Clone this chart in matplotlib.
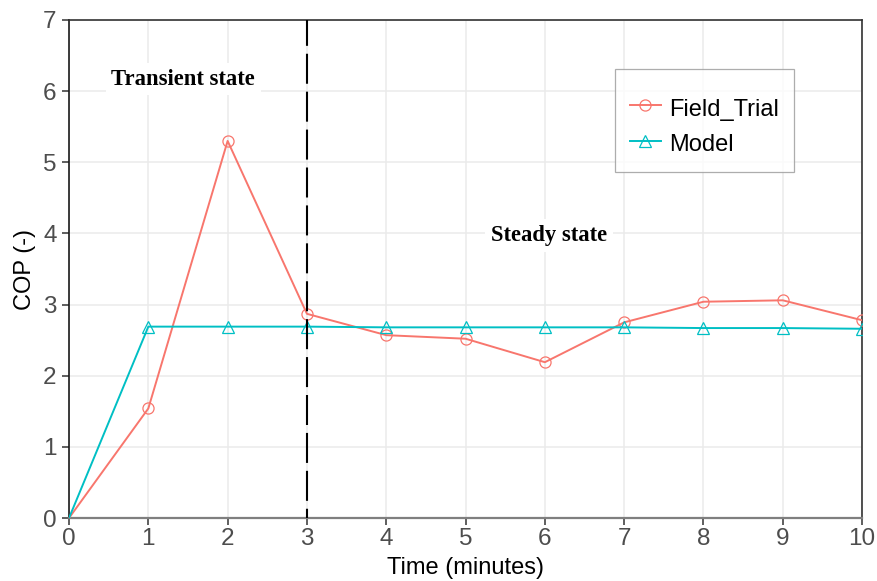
import matplotlib
matplotlib.use("Agg")
import matplotlib.pyplot as plt

# Time axis (minutes) and COP series
time_min = [0, 1, 2, 3, 4, 5, 6, 7, 8, 9, 10]
cop_field_trial = [0, 1.54, 5.30, 2.87, 2.57, 2.52, 2.19, 2.75, 3.04, 3.06, 2.78]
cop_model = [0, 2.69, 2.69, 2.69, 2.68, 2.68, 2.68, 2.68, 2.67, 2.67, 2.66]

series_names = ["Field_Trial", "Model"]
x_ticks = [0, 1, 2, 3, 4, 5, 6, 7, 8, 9, 10]
y_ticks = [0, 1, 2, 3, 4, 5, 6, 7]
transition_time = 3

annotations = [
    ("Transient state", 1.44, 6.17),
    ("Steady state", 6.05, 3.97),
]

RED = "#F8766D"
CYAN = "#00BFC4"

plt.rcParams["font.family"] = ["Liberation Sans", "DejaVu Sans"]

fig = plt.figure(figsize=(8.77, 5.81), dpi=100)
ax = fig.add_axes([0.0787, 0.1084, 0.9043, 0.8572])

ax.set_xlim(x_ticks[0], x_ticks[-1])
ax.set_ylim(y_ticks[0], y_ticks[-1])
ax.set_xticks(x_ticks)
ax.set_yticks(y_ticks)

ax.grid(True, color="#EBEBEB", linewidth=1.1, zorder=0)
ax.set_axisbelow(True)

marked = list(range(1, len(time_min)))
ax.plot(time_min, cop_field_trial, color=RED, linewidth=1.4, marker="o",
        markersize=8, markerfacecolor="none", markeredgecolor=RED,
        markeredgewidth=0.9, markevery=marked, label=series_names[0], zorder=3)
ax.plot(time_min, cop_model, color=CYAN, linewidth=1.4, marker="^",
        markersize=8, markerfacecolor="none", markeredgecolor=CYAN,
        markeredgewidth=0.9, markevery=marked, label=series_names[1], zorder=3)

# Boundary between transient and steady operation
ax.axvline(transition_time, ymin=1, ymax=0, color="black", linewidth=1.5,
           linestyle=(2, (14.4, 3.8)), zorder=4)

for label, tx, ty in annotations:
    ax.text(tx, ty, label, ha="center", va="center", fontsize=16.3,
            fontweight="bold", family=["Liberation Serif", "DejaVu Serif"],
            color="black", zorder=5,
            bbox=dict(facecolor="white", edgecolor="none", pad=4))

for side in ("top", "right"):
    ax.spines[side].set_color("#333333")
    ax.spines[side].set_linewidth(1.2)
ax.spines["left"].set_color("#1a1a1a")
ax.spines["left"].set_linewidth(1.2)
ax.spines["bottom"].set_color("#7f7f7f")
ax.spines["bottom"].set_linewidth(1.6)

ax.tick_params(axis="both", which="major", length=5, width=1.1,
               color="#333333", labelcolor="#4D4D4D", labelsize=17.5)
ax.tick_params(axis="x", pad=2)
ax.tick_params(axis="y", pad=4)

ax.set_xlabel("Time (minutes)", fontsize=17, color="black", labelpad=5)
ax.set_ylabel("COP (-)", fontsize=17, color="black", labelpad=5)

leg = ax.legend(loc="upper left", bbox_to_anchor=(0.689, 0.902), fontsize=17,
                title=" ", title_fontsize=3,
                frameon=True, fancybox=False, handlelength=1.3,
                handleheight=1.45, borderpad=0.62, labelspacing=0.3,
                handletextpad=0.35, borderaxespad=0)
leg.get_frame().set_edgecolor("#999999")
leg.get_frame().set_linewidth(0.9)

fig.savefig("out.png", dpi=100)
